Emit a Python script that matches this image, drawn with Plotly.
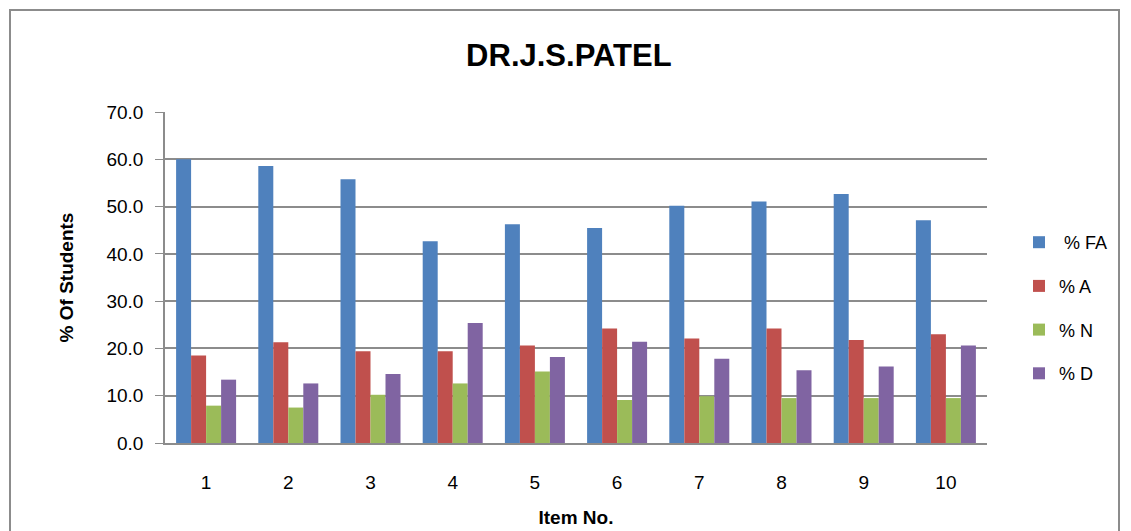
import plotly.graph_objects as go

items = ["1", "2", "3", "4", "5", "6", "7", "8", "9", "10"]
pct_fa = [60.0, 58.6, 55.8, 42.7, 46.3, 45.5, 50.2, 51.1, 52.7, 47.1]
pct_a = [18.5, 21.3, 19.4, 19.4, 20.6, 24.2, 22.1, 24.2, 21.8, 23.0]
pct_n = [7.9, 7.5, 10.2, 12.6, 15.1, 9.1, 9.9, 9.5, 9.5, 9.5]
pct_d = [13.4, 12.6, 14.6, 25.4, 18.2, 21.4, 17.8, 15.4, 16.2, 20.6]

series = [(" % FA", pct_fa, "#4F81BD"), ("% A", pct_a, "#C0504D"),
          ("% N", pct_n, "#9BBB59"), ("% D", pct_d, "#8064A2")]

fig = go.Figure()
for i, (name, vals, col) in enumerate(series):
    fig.add_trace(go.Bar(x=items, y=vals, name=name, marker_color=col,
                         marker_line_width=0, legendgroup=str(i)))

L, R, T, B = 165, 987, 112, 443
W, H = 1131, 531
pw, ph = R - L, B - T

def px(x):
    return (x - L) / pw

def py(y):
    return (B - y) / ph

font = "Liberation Sans"
fig.update_layout(
    width=W, height=H,
    margin=dict(l=L, r=W - R, t=T, b=H - B, pad=0, autoexpand=False),
    paper_bgcolor="white", plot_bgcolor="white",
    font=dict(family=font, size=19, color="black"),
    barmode="group", bargap=0.27, bargroupgap=0,
    title=dict(text="<b>DR.J.S.PATEL</b>", x=0.503, xanchor="center",
               y=1 - 55 / H, yanchor="middle", font=dict(size=31, family=font)),
    legend=dict(x=px(1019), y=py(224), xanchor="left", yanchor="top",
                font=dict(size=18, family=font), tracegroupgap=17.3,
                bgcolor="rgba(0,0,0,0)", itemwidth=30),
    showlegend=True,
)
fig.update_yaxes(range=[0, 70.02], dtick=10, tickformat=".1f", automargin=False,
                 showgrid=True, gridcolor="#8c8c8c", gridwidth=1.5,
                 showline=True, linecolor="#8c8c8c", linewidth=1.5,
                 ticks="outside", ticklen=8, tickcolor="#8c8c8c",
                 ticklabelstandoff=8, zeroline=False,
                 title=dict(text="<b>% Of Students</b>", font=dict(size=19), standoff=28))
fig.update_xaxes(showline=True, linecolor="#8c8c8c", linewidth=2, automargin=False,
                 ticks="", tickfont=dict(size=19), ticklabelstandoff=21,
                 title=dict(text="<b>Item No.</b>", font=dict(size=19), standoff=19))

fig.add_shape(type="rect", xref="paper", yref="paper",
              x0=px(10), x1=px(1119), y0=py(10), y1=py(545),
              line=dict(color="#8c8c8c", width=2), fillcolor="rgba(0,0,0,0)",
              layer="below")

fig.write_html("out.html", config={"displayModeBar": False},
               post_script="document.body.style.margin='0';")
